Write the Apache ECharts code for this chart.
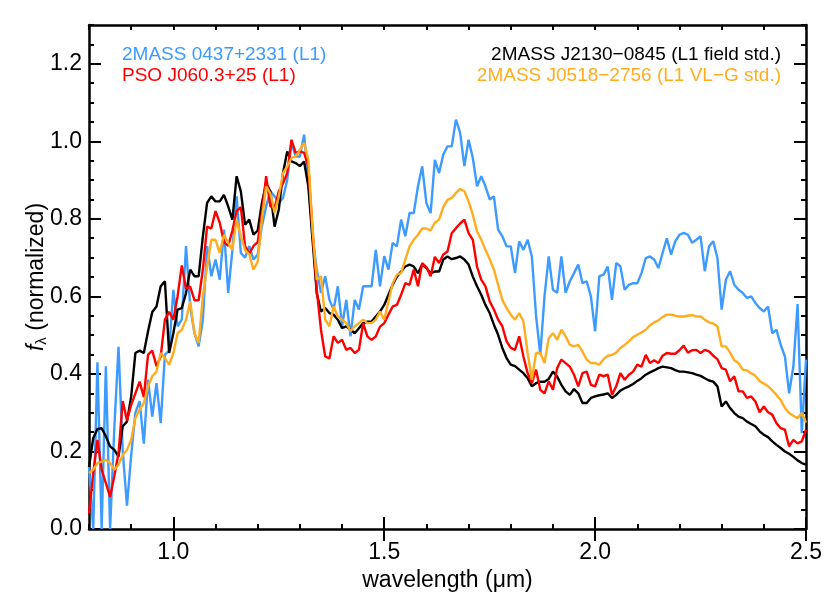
<!DOCTYPE html>
<html>
<head>
<meta charset="utf-8">
<script src="https://cdn.jsdelivr.net/npm/echarts@6/dist/echarts.min.js"></script>
<style>
  html, body { margin: 0; padding: 0; background: #fff; }
  #chart { width: 830px; height: 600px; }
</style>
</head>
<body>
<div id="chart"></div>
<script>
// wavelength grid (micron)
const wavelength = [
  0.80, 0.81, 0.82, 0.83, 0.84, 0.85, 0.86, 0.87, 0.88, 0.89,
  0.90, 0.91, 0.92, 0.93, 0.94, 0.95, 0.96, 0.97, 0.98, 0.99,
  1.00, 1.01, 1.02, 1.03, 1.04, 1.05, 1.06, 1.07, 1.08, 1.09,
  1.10, 1.11, 1.12, 1.13, 1.14, 1.15, 1.16, 1.17, 1.18, 1.19,
  1.20, 1.21, 1.22, 1.23, 1.24, 1.25, 1.26, 1.27, 1.28, 1.29,
  1.30, 1.31, 1.32, 1.33, 1.34, 1.35, 1.36, 1.37, 1.38, 1.39,
  1.40, 1.41, 1.42, 1.43, 1.44, 1.45, 1.46, 1.47, 1.48, 1.49,
  1.50, 1.51, 1.52, 1.53, 1.54, 1.55, 1.56, 1.57, 1.58, 1.59,
  1.60, 1.61, 1.62, 1.63, 1.64, 1.65, 1.66, 1.67, 1.68, 1.69,
  1.70, 1.71, 1.72, 1.73, 1.74, 1.75, 1.76, 1.77, 1.78, 1.79,
  1.80, 1.81, 1.82, 1.83, 1.84, 1.85, 1.86, 1.87, 1.88, 1.89,
  1.90, 1.91, 1.92, 1.93, 1.94, 1.95, 1.96, 1.97, 1.98, 1.99,
  2.00, 2.01, 2.02, 2.03, 2.04, 2.05, 2.06, 2.07, 2.08, 2.09,
  2.10, 2.11, 2.12, 2.13, 2.14, 2.15, 2.16, 2.17, 2.18, 2.19,
  2.20, 2.21, 2.22, 2.23, 2.24, 2.25, 2.26, 2.27, 2.28, 2.29,
  2.30, 2.31, 2.32, 2.33, 2.34, 2.35, 2.36, 2.37, 2.38, 2.39,
  2.40, 2.41, 2.42, 2.43, 2.44, 2.45, 2.46, 2.47, 2.48, 2.49,
  2.50
]

// 2MASS 0437+2331 (L1)
const flux0437 = [
  0.16, 0.0, 0.43, 0.0, 0.42, 0.0, 0.26, 0.47, 0.2, 0.06,
  0.19, 0.3, 0.33, 0.22, 0.385, 0.29, 0.376, 0.273, 0.45, 0.46,
  0.617, 0.523, 0.54, 0.73, 0.574, 0.505, 0.471, 0.54, 0.73, 0.652,
  0.695, 0.643, 0.772, 0.609, 0.72, 0.858, 0.712, 0.7, 0.73, 0.695,
  0.708, 0.781, 0.832, 0.871, 0.858, 0.841, 0.854, 0.901, 0.996, 0.961,
  0.961, 1.017, 0.901, 0.755, 0.669, 0.609, 0.652, 0.591, 0.566, 0.626,
  0.523, 0.591, 0.497, 0.591, 0.566, 0.626, 0.626, 0.626, 0.72, 0.626,
  0.704, 0.669, 0.738, 0.729, 0.798, 0.755, 0.815, 0.815, 0.884, 0.935,
  0.84, 0.815, 0.952, 0.918, 0.966, 0.987, 0.987, 1.056, 1.022, 0.936,
  1.004, 0.957, 0.884, 0.91, 0.884, 0.85, 0.858, 0.772, 0.755, 0.729,
  0.729, 0.66, 0.742, 0.72, 0.746, 0.703, 0.55, 0.45, 0.6, 0.703,
  0.617, 0.609, 0.703, 0.609, 0.639, 0.66, 0.682, 0.634, 0.639, 0.6,
  0.51, 0.652, 0.656, 0.677, 0.591, 0.686, 0.677, 0.617, 0.63, 0.634,
  0.634, 0.66, 0.699, 0.703, 0.695, 0.673, 0.712, 0.75, 0.708, 0.742,
  0.759, 0.764, 0.759, 0.738, 0.746, 0.755, 0.665, 0.729, 0.742, 0.699,
  0.566, 0.643, 0.665, 0.63, 0.617, 0.609, 0.596, 0.6, 0.583, 0.57,
  0.561, 0.574, 0.505, 0.514, 0.475, 0.445, 0.35, 0.419, 0.58, 0.247,
  0.437
]

// PSO J060.3+25 (L1)
const fluxPSO = [
  0.04, 0.144, 0.23, 0.153, 0.118, 0.083, 0.136, 0.196, 0.33, 0.28,
  0.32, 0.35, 0.38, 0.34, 0.45, 0.46, 0.42, 0.445, 0.54, 0.56,
  0.54, 0.6, 0.68, 0.62, 0.625, 0.59, 0.59, 0.67, 0.78, 0.775,
  0.82, 0.79, 0.74, 0.73, 0.77, 0.82, 0.83, 0.73, 0.71, 0.73,
  0.74, 0.815, 0.91, 0.832, 0.828, 0.871, 0.892, 0.918, 1.004, 0.97,
  0.974, 0.97, 0.936, 0.772, 0.617, 0.514, 0.445, 0.44, 0.497, 0.48,
  0.488, 0.462, 0.467, 0.454, 0.462, 0.531, 0.497, 0.488, 0.497, 0.522,
  0.531, 0.553, 0.574, 0.578, 0.604, 0.634, 0.63, 0.669, 0.626, 0.686,
  0.675, 0.652, 0.702, 0.686, 0.708, 0.716, 0.763, 0.776, 0.788, 0.798,
  0.763, 0.746, 0.677, 0.643, 0.626, 0.587, 0.566, 0.54, 0.523, 0.484,
  0.467, 0.462, 0.497, 0.445, 0.402, 0.376, 0.411, 0.359, 0.35, 0.381,
  0.359, 0.415, 0.437, 0.428, 0.419, 0.398, 0.368, 0.402, 0.406, 0.372,
  0.368, 0.398, 0.394, 0.398, 0.346, 0.368, 0.402, 0.385, 0.398, 0.406,
  0.424, 0.419, 0.449, 0.428, 0.435, 0.428, 0.447, 0.454, 0.452, 0.452,
  0.461, 0.473, 0.455, 0.461, 0.462, 0.454, 0.462, 0.458, 0.447, 0.438,
  0.415, 0.411, 0.381, 0.394, 0.355, 0.355, 0.338, 0.342, 0.329, 0.301,
  0.316, 0.301, 0.295, 0.273, 0.26, 0.256, 0.213, 0.23, 0.221, 0.226,
  0.256
]

// 2MASS J2130-0845 (L1 field std.)
const fluxJ2130 = [
  0.16, 0.234, 0.258, 0.26, 0.239, 0.213, 0.204, 0.187, 0.265, 0.277,
  0.342, 0.454, 0.46, 0.454, 0.51, 0.56, 0.574, 0.626, 0.639, 0.454,
  0.505, 0.566, 0.57, 0.608, 0.669, 0.652, 0.652, 0.755, 0.841, 0.858,
  0.845, 0.845, 0.862, 0.832, 0.798, 0.91, 0.871, 0.785, 0.798, 0.759,
  0.77, 0.841, 0.892, 0.871, 0.78, 0.824, 0.918, 0.974, 0.948, 0.944,
  0.936, 0.948, 0.884, 0.746, 0.608, 0.561, 0.57, 0.557, 0.553, 0.54,
  0.518, 0.523, 0.514, 0.505, 0.518, 0.531, 0.535, 0.535, 0.548, 0.561,
  0.578, 0.604, 0.63, 0.651, 0.664, 0.677, 0.682, 0.677, 0.66, 0.682,
  0.673, 0.66, 0.664, 0.664, 0.695, 0.703, 0.696, 0.699, 0.703, 0.695,
  0.682, 0.651, 0.626, 0.604, 0.578, 0.557, 0.527, 0.501, 0.467, 0.441,
  0.424, 0.42, 0.411, 0.402, 0.389, 0.368, 0.376, 0.38, 0.38, 0.387,
  0.406, 0.393, 0.372, 0.355, 0.346, 0.361, 0.35, 0.325, 0.325, 0.338,
  0.342, 0.345, 0.347, 0.35, 0.338, 0.346, 0.357, 0.363, 0.368, 0.374,
  0.382, 0.389, 0.398, 0.404, 0.409, 0.415, 0.419, 0.417, 0.415, 0.41,
  0.406, 0.406, 0.404, 0.402, 0.398, 0.395, 0.389, 0.383, 0.38, 0.368,
  0.316, 0.329, 0.312, 0.299, 0.29, 0.286, 0.277, 0.271, 0.265, 0.252,
  0.243, 0.237, 0.226, 0.217, 0.209, 0.2, 0.194, 0.186, 0.177, 0.17,
  0.166
]

// 2MASS J0518-2756 (L1 VL-G std.)
const fluxJ0518 = [
  0.144, 0.153, 0.17, 0.174, 0.178, 0.17, 0.153, 0.166, 0.191, 0.204,
  0.23, 0.286, 0.308, 0.325, 0.368, 0.394, 0.406, 0.454, 0.441, 0.424,
  0.454, 0.505, 0.514, 0.54, 0.587, 0.505, 0.48, 0.6, 0.677, 0.746,
  0.746, 0.712, 0.759, 0.738, 0.72, 0.798, 0.755, 0.72, 0.708, 0.669,
  0.69, 0.8, 0.884, 0.866, 0.815, 0.858, 0.918, 0.935, 0.957, 0.961,
  0.978, 0.996, 0.953, 0.772, 0.643, 0.652, 0.54, 0.523, 0.574, 0.548,
  0.54, 0.531, 0.51, 0.523, 0.531, 0.54, 0.531, 0.531, 0.54, 0.561,
  0.54, 0.587, 0.634, 0.656, 0.66, 0.695, 0.729, 0.746, 0.759, 0.775,
  0.775, 0.77, 0.79, 0.798, 0.83, 0.849, 0.854, 0.867, 0.877, 0.871,
  0.845, 0.811, 0.768, 0.746, 0.72, 0.696, 0.669, 0.63, 0.591, 0.57,
  0.553, 0.54, 0.557, 0.535, 0.454, 0.385, 0.454, 0.454, 0.428, 0.492,
  0.505, 0.488, 0.514, 0.497, 0.475, 0.471, 0.475, 0.458, 0.437, 0.428,
  0.428, 0.424, 0.438, 0.447, 0.449, 0.455, 0.467, 0.475, 0.484, 0.495,
  0.501, 0.507, 0.514, 0.525, 0.533, 0.538, 0.547, 0.553, 0.553, 0.55,
  0.548, 0.548, 0.55, 0.552, 0.548, 0.548, 0.54, 0.533, 0.53, 0.523,
  0.471, 0.471, 0.455, 0.435, 0.428, 0.411, 0.409, 0.402, 0.395, 0.381,
  0.375, 0.368, 0.358, 0.346, 0.333, 0.312, 0.299, 0.292, 0.286, 0.299,
  0.275
]

const seriesNames = [
  '2MASS 0437+2331 (L1)',
  'PSO J060.3+25 (L1)',
  '2MASS J2130\u22120845 (L1 field std.)',
  '2MASS J0518\u22122756 (L1 VL\u2212G std.)'
]
const seriesColors = ['#3d9bff', '#ff0000', '#000000', '#ffad1f']

const xMajorTicks = [1.0, 1.5, 2.0, 2.5]
const yMajorTicks = [0.0, 0.2, 0.4, 0.6, 0.8, 1.0, 1.2]

const FONT = 'Liberation Sans'

function pairs(values) {
    return wavelength.map((w, i) => [w, values[i]])
}

function frameAxis(position, min, max, extra) {
    return Object.assign({
        type: 'value',
        position: position,
        min: min,
        max: max,
        axisLine: { show: true, onZero: false, lineStyle: { color: '#000', width: 2.5 } },
        axisTick: { show: true, inside: true, length: 5, lineStyle: { color: '#000', width: 2 } },
        axisLabel: { show: false },
        splitLine: { show: false }
    }, extra)
}

function majorTicks(position, min, max, values) {
    return frameAxis(position, min, max, {
        axisLine: { show: false },
        axisTick: { show: true, inside: true, length: 12, customValues: values, lineStyle: { color: '#000', width: 2 } }
    })
}

const chart = echarts.init(document.getElementById('chart'))

chart.setOption({
    animation: false,
    backgroundColor: '#fff',
    textStyle: { fontFamily: FONT },
    grid: { left: 89, right: 24, top: 25, bottom: 71, containLabel: false },
    legend: [{
        left: 112,
        top: 40,
        orient: 'vertical',
        icon: 'none',
        itemWidth: 0,
        itemHeight: 19,
        itemGap: 2,
        selectedMode: false,
        textStyle: { fontSize: 19, fontFamily: FONT },
        data: [
            { name: seriesNames[0], textStyle: { color: seriesColors[0] } },
            { name: seriesNames[1], textStyle: { color: seriesColors[1] } }
        ]
    }, {
        right: 39,
        top: 40,
        orient: 'vertical',
        align: 'right',
        icon: 'none',
        itemWidth: 0,
        itemHeight: 19,
        itemGap: 2,
        selectedMode: false,
        textStyle: { fontSize: 19, fontFamily: FONT },
        data: [
            { name: seriesNames[2], textStyle: { color: seriesColors[2] } },
            { name: seriesNames[3], textStyle: { color: seriesColors[3] } }
        ]
    }],
    xAxis: [
        frameAxis('bottom', 0.8, 2.5, {
            interval: 0.1,
            name: 'wavelength (\u03bcm)',
            nameLocation: 'middle',
            nameGap: 40,
            nameMoveOverlap: false,
            nameTextStyle: { fontSize: 23, color: '#000', fontFamily: FONT },
            axisLabel: {
                show: true,
                customValues: xMajorTicks,
                formatter: v => v.toFixed(1),
                fontSize: 23,
                color: '#000',
                margin: 12,
                fontFamily: FONT
            }
        }),
        majorTicks('bottom', 0.8, 2.5, xMajorTicks),
        frameAxis('top', 0.8, 2.5, { interval: 0.1 }),
        majorTicks('top', 0.8, 2.5, xMajorTicks)
    ],
    yAxis: [
        frameAxis('left', 0, 1.3, {
            interval: 0.05,
            name: '{f|f}{s|\u03bb} (normalized)',
            nameLocation: 'middle',
            nameGap: 40,
            nameMoveOverlap: false,
            nameTextStyle: {
                fontSize: 23,
                color: '#000',
                fontFamily: FONT,
                rich: {
                    f: { fontSize: 23, fontStyle: 'italic', fontFamily: FONT, color: '#000' },
                    s: { fontSize: 15, fontFamily: FONT, color: '#000', padding: [10, 0, 0, 0] }
                }
            },
            axisLabel: {
                show: true,
                customValues: yMajorTicks,
                formatter: v => v.toFixed(1),
                fontSize: 23,
                color: '#000',
                margin: 7,
                fontFamily: FONT
            }
        }),
        majorTicks('left', 0, 1.3, yMajorTicks),
        frameAxis('right', 0, 1.3, { interval: 0.05 }),
        majorTicks('right', 0, 1.3, yMajorTicks)
    ],
    series: [
        { name: seriesNames[0], data: pairs(flux0437) },
        { name: seriesNames[2], data: pairs(fluxJ2130) },
        { name: seriesNames[1], data: pairs(fluxPSO) },
        { name: seriesNames[3], data: pairs(fluxJ0518) }
    ].map(s => ({
        name: s.name,
        type: 'line',
        xAxisIndex: 0,
        yAxisIndex: 0,
        data: s.data,
        showSymbol: false,
        clip: true,
        color: seriesColors[seriesNames.indexOf(s.name)],
        lineStyle: { width: 2.4, color: seriesColors[seriesNames.indexOf(s.name)] }
    }))
})
</script>
</body>
</html>
